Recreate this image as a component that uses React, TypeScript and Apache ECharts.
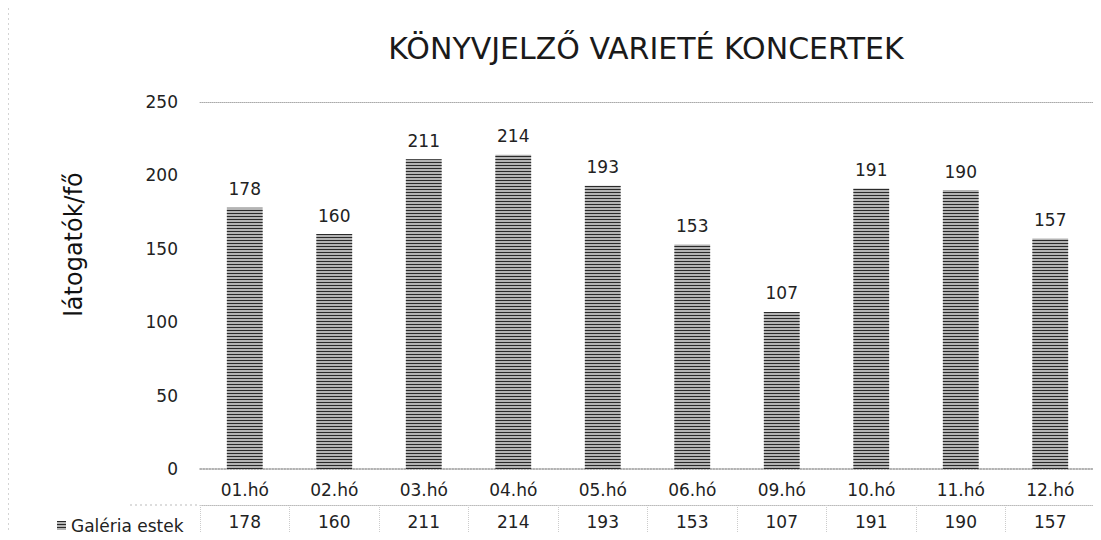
import React, { useEffect, useRef } from "react";
import * as echarts from "echarts";

const categories = ["01.hó", "02.hó", "03.hó", "04.hó", "05.hó", "06.hó", "09.hó", "10.hó", "11.hó", "12.hó"];
const values = [178, 160, 211, 214, 193, 153, 107, 191, 190, 157];
const seriesName = "Galéria estek";
const titleText = "KÖNYVJELZŐ VARIETÉ KONCERTEK";
const yAxisName = "látogatók/fő";

export default function App() {
  const ref = useRef<HTMLDivElement>(null);
  useEffect(() => {
    if (!ref.current) return;
    const chart = echarts.init(ref.current, null, { renderer: "svg" });
    const font = "DejaVu Sans";
    chart.setOption({
      animation: false,
      backgroundColor: "#fff",
      aria: { enabled: true, decal: { show: true } },
      title: {
        text: titleText,
        left: 641,
        top: 28,
        textAlign: "center",
        textStyle: { fontFamily: font, fontSize: 30, fontWeight: "normal", color: "#1a1a1a" },
      },
      legend: {
        data: [seriesName],
        left: 52,
        top: 512,
        icon: "rect",
        itemWidth: 9,
        itemHeight: 9,
        itemGap: 5,
        textStyle: { fontFamily: font, fontSize: 17, color: "#222" },
      },
      grid: { left: 200, right: 6, top: 102, bottom: 71 },
      xAxis: [
        {
          type: "category",
          data: categories,
          position: "bottom",
          axisLine: { lineStyle: { color: "#999", type: "dotted", width: 1.5 } },
          axisTick: { show: false },
          axisLabel: { fontFamily: font, fontSize: 17, color: "#222", margin: 12 },
        },
        {
          type: "category",
          data: values.map(String),
          position: "bottom",
          offset: 36,
          axisLine: { lineStyle: { color: "#bbb", type: "dotted" } },
          axisTick: { show: true, length: 30, lineStyle: { color: "#ccc", type: "dotted" } },
          axisLabel: { fontFamily: font, fontSize: 17, color: "#222", margin: 8 },
        },
        {
          type: "category",
          data: categories,
          position: "top",
          axisLine: { lineStyle: { color: "#aaa", type: "dotted" } },
          axisTick: { show: false },
          axisLabel: { show: false },
        },
      ],
      yAxis: {
        type: "value",
        min: 0,
        max: 250,
        interval: 50,
        name: yAxisName,
        nameLocation: "middle",
        nameGap: 114,
        nameTextStyle: { fontFamily: font, fontSize: 24, color: "#111", padding: [0, 0, 0, 82] },
        axisLine: { show: false },
        axisTick: { show: false },
        splitLine: { show: false },
        axisLabel: { fontFamily: font, fontSize: 17, color: "#222", margin: 22 },
      },
      series: [
        {
          name: seriesName,
          type: "bar",
          data: values,
          xAxisIndex: 0,
          barWidth: "40%",
          itemStyle: {
            color: "#b4b4b4",
            decal: {
              symbol: "rect",
              symbolSize: 1,
              dashArrayX: [1, 0],
              dashArrayY: [1, 2],
              rotation: 0,
              color: "#2a2a2a",
            },
          },
          label: {
            show: true,
            position: "top",
            distance: 10,
            fontFamily: font,
            fontSize: 17,
            color: "#222",
          },
        },
      ],
      graphic: [
        {
          type: "rect",
          shape: { x: 8, y: 5, width: 1090, height: 540 },
          style: { fill: "none", stroke: "#aaa", lineDash: [2, 3], lineWidth: 1 },
        },
        {
          type: "line",
          shape: { x1: 130, y1: 505, x2: 200, y2: 505 },
          style: { stroke: "#bbb", lineDash: [2, 3], lineWidth: 1 },
        },
      ],
    });
    return () => chart.dispose();
  }, []);
  return <div ref={ref} style={{ width: 1101, height: 540, margin: -8 }} />;
}
